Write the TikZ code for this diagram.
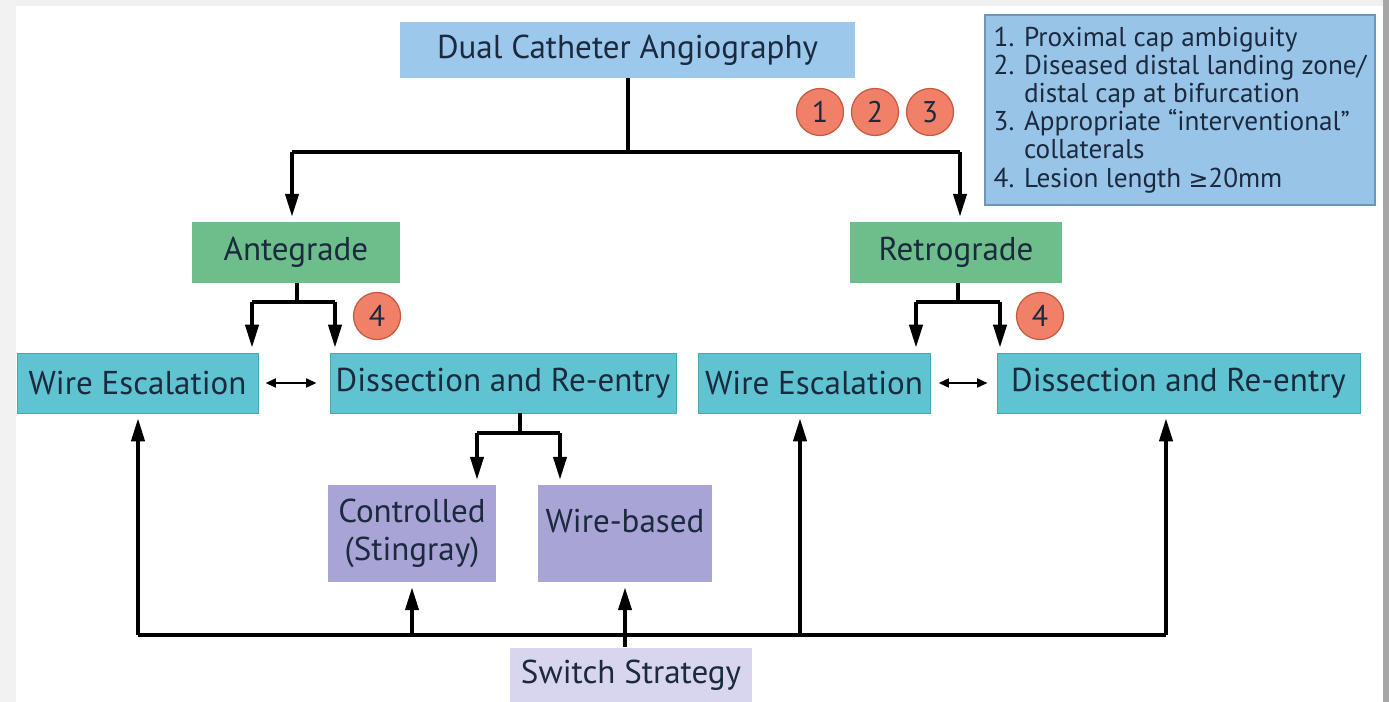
\documentclass[tikz,border=0pt]{standalone}
\usepackage{fontspec}
\setmainfont{PT Sans}
\newfontfamily\symfont{DejaVu Sans}
\usetikzlibrary{arrows.meta,positioning,calc}
\definecolor{dualc}{HTML}{9BC8EB}
\definecolor{legc}{HTML}{98C4E8}
\definecolor{legb}{HTML}{6E96BA}
\definecolor{greenc}{HTML}{6EBE8C}
\definecolor{tealc}{HTML}{5FC3D2}
\definecolor{tealb}{HTML}{4AA8B6}
\definecolor{lavc}{HTML}{A8A5D6}
\definecolor{swc}{HTML}{D8D6EF}
\definecolor{circc}{HTML}{F08068}
\definecolor{circb}{HTML}{C8583F}
\definecolor{txtc}{HTML}{1B2A3E}
\begin{document}
\begin{tikzpicture}[x=0.02cm,y=-0.02cm,
  box/.style={inner sep=0pt, align=center, text=txtc, font=\fontsize{18.8}{21.5}\selectfont},
  dualbox/.style={box, fill=dualc},
  greenbox/.style={box, fill=greenc},
  tealbox/.style={box, fill=tealc, draw=tealb, line width=0.5pt},
  lavbox/.style={box, fill=lavc},
  swbox/.style={box, fill=swc},
  legbox/.style={box, fill=legc, draw=legb, line width=0.8pt, align=left, font=\fontsize{15.5}{16}\selectfont},
  num/.style={circle, fill=circc, draw=circb, line width=0.7pt, minimum size=0.94cm, inner sep=0pt, text=txtc, font=\fontsize{17}{19}\selectfont},
  conn/.style={line width=2pt, black},
  arr/.style={conn, -{Triangle[length=13pt,width=7.5pt]}, shorten >=0.1cm},
  dbl/.style={line width=1.4pt, {Triangle[length=6pt,width=5pt]}-{Triangle[length=6pt,width=5pt]}},
]
\useasboundingbox (0,0) rectangle (1389,702);
\fill[white] (0,0) rectangle (1389,702);
% frame shadows
\fill[black!6] (0,0) rectangle (1389,6);
\fill[black!5] (0,0) rectangle (16,702);
\fill[black!35] (1383,0) rectangle (1389,702);

% nodes
\node[dualbox, minimum width=9.1cm, minimum height=1.12cm] (dual) at (627.5,50) {Dual Catheter Angiography};
\node[legbox, minimum width=7.8cm, minimum height=3.8cm] (leg) at (1180,110)
  {1. Proximal cap ambiguity\\
   2. Diseased distal landing zone/\\
   \hphantom{2. }distal cap at bifurcation\\
   3. Appropriate ``interventional''\\
   \hphantom{3. }collaterals\\
   4. Lesion length {\symfont\fontsize{13.5}{16}\selectfont ≥}20mm};
\node[num] (c1) at (820,112) {1};
\node[num] (c2) at (875,112) {2};
\node[num] (c3) at (930,112) {3};

\node[greenbox, minimum width=4.16cm, minimum height=1.22cm] (ante) at (296,252.5) {Antegrade};
\node[greenbox, minimum width=4.24cm, minimum height=1.22cm] (retro) at (956,252.5) {Retrograde};

\node[num] (c4l) at (377,316) {4};
\node[num] (c4r) at (1040,316) {4};

\node[tealbox, minimum width=4.82cm, minimum height=1.2cm] (wel) at (137.5,383) {Wire Escalation};
\node[tealbox, minimum width=6.92cm, minimum height=1.2cm] (del) at (503,383) {Dissection and Re-entry};
\node[tealbox, minimum width=4.64cm, minimum height=1.2cm] (wer) at (814,383) {Wire Escalation};
\node[tealbox, minimum width=7.26cm, minimum height=1.2cm] (der) at (1178.5,383) {Dissection and Re-entry};

\node[lavbox, minimum width=3.36cm, minimum height=1.94cm] (ctrl) at (412,533.5) {Controlled\\(Stingray)};
\node[lavbox, minimum width=3.48cm, minimum height=1.94cm, text depth=0.5cm] (wb) at (625,533.5) {Wire-based};
\node[swbox, minimum width=4.84cm, minimum height=1.1cm] (sw) at (631,675) {Switch Strategy};

% top split
\coordinate (tj) at (628,152);
\coordinate (tl) at (292,152);
\coordinate (tr) at (960,152);
\draw[conn] (dual.south -| tj) -- (tj);
\draw[conn] (tl) -- (tr);
\draw[arr] (tl) -- (tl |- ante.north);
\draw[arr] (tr) -- (tr |- retro.north);

% antegrade split
\coordinate (aj) at (297,302);
\coordinate (al) at (252,302);
\coordinate (ar) at (335,302);
\draw[conn] (ante.south -| aj) -- (aj);
\draw[conn] (al) -- (ar);
\draw[arr] (al) -- (al |- wel.north);
\draw[arr] (ar) -- (ar |- del.north);

% retrograde split
\coordinate (rj) at (958,302);
\coordinate (rl) at (916,302);
\coordinate (rr) at (1000,302);
\draw[conn] (retro.south -| rj) -- (rj);
\draw[conn] (rl) -- (rr);
\draw[arr] (rl) -- (rl |- wer.north);
\draw[arr] (rr) -- (rr |- der.north);

% double arrows
\draw[dbl] ([xshift=0.14cm]wel.east) -- ([xshift=-0.26cm]del.west);
\draw[dbl] ([xshift=0.16cm]wer.east) -- ([xshift=-0.18cm]der.west);

% dissection split
\coordinate (dj) at (520,433);
\coordinate (dl) at (477,433);
\coordinate (dr) at (560,433);
\draw[conn] (del.south -| dj) -- (dj);
\draw[conn] (dl) -- (dr);
\draw[arr] (dl) -- (dl |- ctrl.north);
\draw[arr] (dr) -- (dr |- wb.north);

% bottom bus
\coordinate (b1) at (138,635);
\coordinate (b2) at (412,635);
\coordinate (b3) at (625,635);
\coordinate (b4) at (800,635);
\coordinate (b5) at (1166,635);
\draw[conn] (b1) -- (b5);
\draw[arr] (b1) -- (b1 |- wel.south);
\draw[arr] (b2) -- (b2 |- ctrl.south);
\draw[arr] (sw.north -| b3) -- (b3 |- wb.south);
\draw[arr] (b4) -- (b4 |- wer.south);
\draw[arr] (b5) -- (b5 |- der.south);
\end{tikzpicture}
\end{document}
